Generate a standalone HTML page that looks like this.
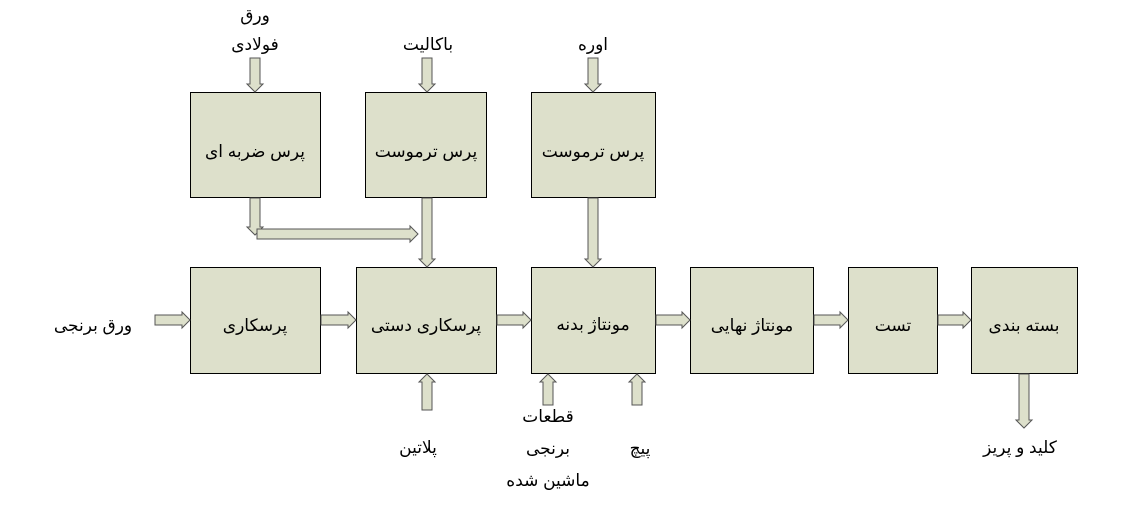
<!DOCTYPE html>
<html><head><meta charset="utf-8"><style>
body{margin:0;background:#fff;}
svg text{font-family:"Liberation Sans","DejaVu Sans",sans-serif;font-size:17px;fill:#000;text-anchor:middle;}
</style></head><body>
<svg width="1121" height="517" viewBox="0 0 1121 517" xmlns="http://www.w3.org/2000/svg">
<g fill="#dde0cb" stroke="#000" stroke-width="1">
<rect x="190.5" y="92.5" width="130" height="105"/>
<rect x="365.5" y="92.5" width="121" height="105"/>
<rect x="531.5" y="92.5" width="124" height="105"/>
<rect x="190.5" y="267.5" width="130" height="106"/>
<rect x="356.5" y="267.5" width="140" height="106"/>
<rect x="531.5" y="267.5" width="124" height="106"/>
<rect x="690.5" y="267.5" width="123" height="106"/>
<rect x="848.5" y="267.5" width="89" height="106"/>
<rect x="971.5" y="267.5" width="106" height="106"/>
</g>
<g fill="#dde0cb" stroke="#555" stroke-width="1">
<polygon points="155,315 182,315 182,312 190,320 182,328 182,325 155,325"/>
<polygon points="321,315 348,315 348,312 356,320 348,328 348,325 321,325"/>
<polygon points="497,315 523,315 523,312 531,320 523,328 523,325 497,325"/>
<polygon points="656,315 682,315 682,312 690,320 682,328 682,325 656,325"/>
<polygon points="814,315 840,315 840,312 848,320 840,328 840,325 814,325"/>
<polygon points="938,315 963,315 963,312 971,320 963,328 963,325 938,325"/>
<polygon points="250,58 260,58 260,84 263,84 255,92 247,84 250,84"/>
<polygon points="422,58 432,58 432,84 435,84 427,92 419,84 422,84"/>
<polygon points="588,58 598,58 598,84 601,84 593,92 585,84 588,84"/>
<polygon points="250,198 260,198 260,227 263,227 255,235 247,227 250,227"/>
<polygon points="257,229 410,229 410,226 418,234 410,242 410,239 257,239"/>
<polygon points="422,198 432,198 432,259 435,259 427,267 419,259 422,259"/>
<polygon points="588,198 598,198 598,259 601,259 593,267 585,259 588,259"/>
<polygon points="422,410 432,410 432,382 435,382 427,374 419,382 422,382"/>
<polygon points="543,405 553,405 553,382 556,382 548,374 540,382 543,382"/>
<polygon points="632,405 642,405 642,382 645,382 637,374 629,382 632,382"/>
<polygon points="1019,374 1029,374 1029,420 1032,420 1024,428 1016,420 1019,420"/>
</g>
<g direction="rtl">
<text x="255" y="21" direction="rtl">ورق</text>
<text x="255" y="50" direction="rtl">فولادی</text>
<text x="428" y="50" direction="rtl">باکالیت</text>
<text x="593" y="50" direction="rtl">اوره</text>
<text x="255" y="157" direction="rtl">پرس ضربه ای</text>
<text x="426" y="157" direction="rtl">پرس ترموست</text>
<text x="593" y="157" direction="rtl">پرس ترموست</text>
<text x="93" y="331" direction="rtl">ورق برنجی</text>
<text x="255" y="331" direction="rtl">پرسکاری</text>
<text x="426" y="331" direction="rtl">پرسکاری دستی</text>
<text x="593" y="330" direction="rtl">مونتاژ بدنه</text>
<text x="752" y="331" direction="rtl">مونتاژ نهایی</text>
<text x="893" y="331" direction="rtl">تست</text>
<text x="1024" y="331" direction="rtl">بسته بندی</text>
<text x="418" y="453" direction="rtl">پلاتین</text>
<text x="548" y="422" direction="rtl">قطعات</text>
<text x="548" y="454" direction="rtl">برنجی</text>
<text x="548" y="486" direction="rtl">ماشین شده</text>
<text x="640" y="454" direction="rtl">پیچ</text>
<text x="1020" y="453" direction="rtl">کلید و پریز</text>
</g>
</svg>
</body></html>
